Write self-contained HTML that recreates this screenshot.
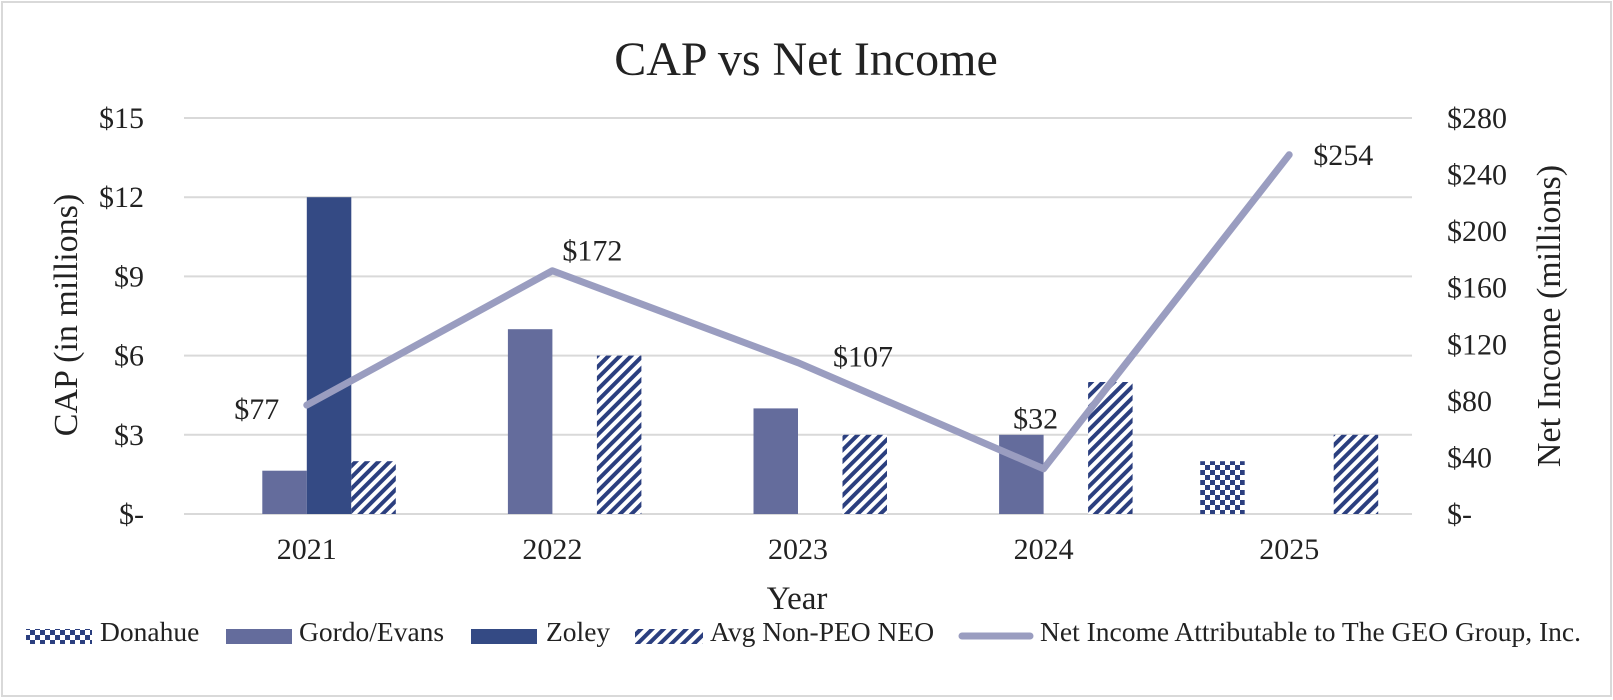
<!DOCTYPE html>
<html><head><meta charset="utf-8"><style>
body{margin:0;background:#fff;}
svg{display:block;font-family:"Liberation Serif",serif;}
</style></head><body>
<svg id="chart" width="1613" height="700">
<defs>
<pattern id="stripes" patternUnits="userSpaceOnUse" width="8" height="8" patternTransform="rotate(45)">
<rect width="8" height="8" fill="#fff"/><rect width="4" height="8" fill="#2b3f7f"/>
</pattern>
<pattern id="checks" patternUnits="userSpaceOnUse" width="10" height="10">
<rect width="10" height="10" fill="#fff"/><rect width="5" height="5" fill="#2b3f7f"/><rect x="5" y="5" width="5" height="5" fill="#2b3f7f"/>
</pattern>
</defs>
<rect x="2" y="2" width="1609" height="694" fill="#fff" stroke="#d9d9d9" stroke-width="2"/>
<text x="806" y="75" font-size="48" text-anchor="middle" fill="#222">CAP vs Net Income</text>
<g id="grid"></g><g id="bars"></g><g id="line"></g><g id="labels"></g>
<text transform="translate(77,315) rotate(-90)" font-size="34" text-anchor="middle" fill="#222">CAP (in millions)</text>
<text transform="translate(1560,316) rotate(-90)" font-size="34" text-anchor="middle" fill="#222">Net Income (millions)</text>
<text x="797" y="609" font-size="33" text-anchor="middle" fill="#222">Year</text>
<g font-size="27.5" fill="#222">
<g><rect x="26" y="629" width="66" height="15" fill="url(#checks)"/><text x="100" y="641">Donahue</text></g>
<g><rect x="226" y="629" width="66" height="15" fill="#646c9c"/><text x="299" y="641">Gordo/Evans</text></g>
<g><rect x="471" y="629" width="66" height="15" fill="#344a84"/><text x="546" y="641">Zoley</text></g>
<g><rect x="635" y="629" width="68" height="15" fill="url(#stripes)"/><text x="710" y="641">Avg Non-PEO NEO</text></g>
<g><line x1="962" y1="636" x2="1030" y2="636" stroke="#9a9dc0" stroke-width="7" stroke-linecap="round"/><text x="1040" y="641">Net Income Attributable to The GEO Group, Inc.</text></g>
</g>
</svg>
<script>
const years = ["2021","2022","2023","2024","2025"];
const donahue = [null,null,null,null,2];
const gordoEvans = [1.64,7,4,3,null];
const zoley = [12,null,null,null,null];
const avgNonPeo = [2,6,3,5,3];
const netIncome = [77,172,107,32,254];
const leftTicks = ["$-","$3","$6","$9","$12","$15"];
const rightTicks = ["$-","$40","$80","$120","$160","$200","$240","$280"];
const leftMax = 15, rightMax = 280;

const NS="http://www.w3.org/2000/svg";
const L=184,R=1412,T=118,B=514;
const bw=(R-L)/years.length;
const x=i=>L+bw*(i+0.5);
const yl=v=>B-(v/leftMax)*(B-T);
const yr=v=>B-(v/rightMax)*(B-T);
function mk(tag,attrs,parent){const e=document.createElementNS(NS,tag);for(const k in attrs)e.setAttribute(k,attrs[k]);parent.appendChild(e);return e;}
const grid=document.getElementById('grid');
leftTicks.forEach((t,i)=>{
  const v=i*leftMax/(leftTicks.length-1);
  const ln=mk('line',{x1:L,x2:R,y1:yl(v),y2:yl(v),stroke:'#d9d9d9','stroke-width':2},grid);
  
  
  const tx=mk('text',{x:144,y:yl(v)+10,'font-size':30,'text-anchor':'end',fill:'#222'},grid);
  tx.textContent=t;
  
  
});
rightTicks.forEach((t,i)=>{
  const v=i*rightMax/(rightTicks.length-1);
  const tx=mk('text',{x:1447,y:yr(v)+10,'font-size':30,fill:'#222'},grid);
  tx.textContent=t;
  
  
});
years.forEach((yv,i)=>{
  const tx=mk('text',{x:x(i),y:559,'font-size':30,'text-anchor':'middle',fill:'#222'},grid);
  tx.textContent=yv;
  
  
});
const bars=document.getElementById('bars');
const series=[[donahue,'url(#checks)','donahue'],[gordoEvans,'#646c9c','gordo-evans'],[zoley,'#344a84','zoley'],[avgNonPeo,'url(#stripes)','avg-non-peo-neo']];
const sw=44.5;
series.forEach((s,k)=>{
  s[0].forEach((v,i)=>{
    if(v==null)return;
    const r=mk('rect',{x:x(i)-2*sw+k*sw,y:yl(v),width:sw,height:B-yl(v),fill:s[1]},bars);
    
    
  });
});
const pts=netIncome.map((v,i)=>x(i)+','+yr(v)).join(' ');
const pl=mk('polyline',{points:pts,fill:'none',stroke:'#9a9dc0','stroke-width':7,'stroke-linejoin':'round','stroke-linecap':'round'},document.getElementById('line'));


const offs=[[-50,14,'middle'],[10,-10,'start'],[35,4,'start'],[-8,-40,'middle'],[24,10,'start']];
netIncome.forEach((v,i)=>{
  const o=offs[i];
  const tx=mk('text',{x:x(i)+o[0],y:yr(v)+o[1],'font-size':30,'text-anchor':o[2],fill:'#222'},document.getElementById('labels'));
  tx.textContent='$'+v;
  
  
});
</script>
</body></html>
